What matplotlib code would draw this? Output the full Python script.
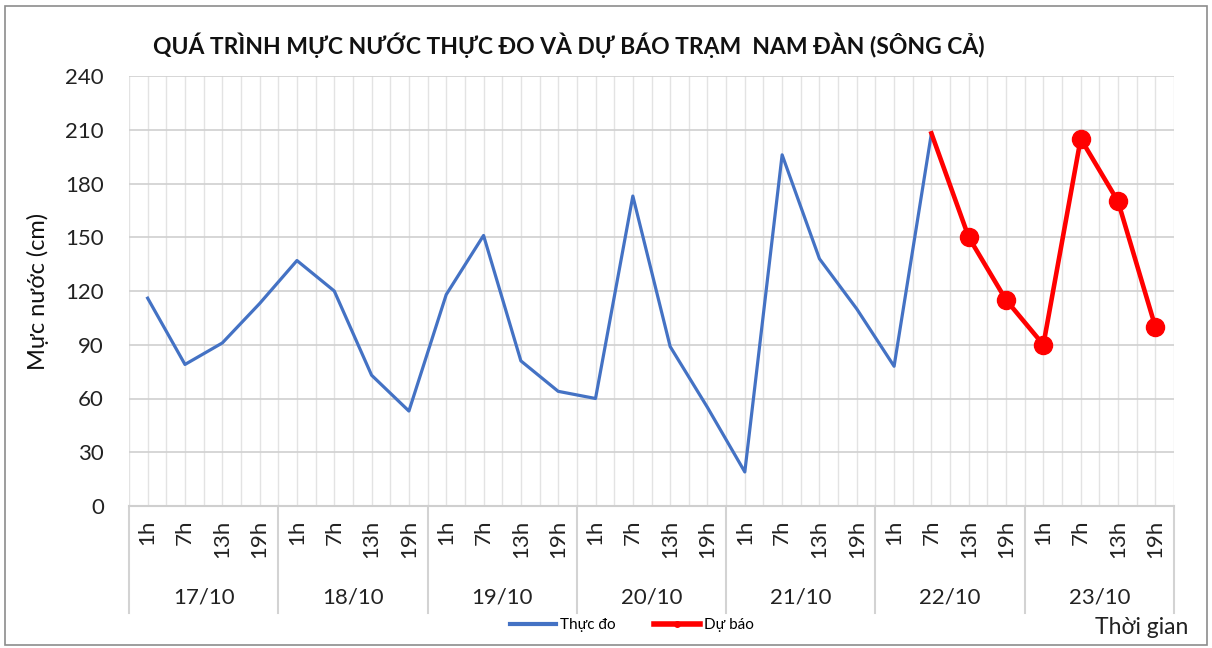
import matplotlib
matplotlib.use("Agg")
import matplotlib.pyplot as plt
from matplotlib.patches import Rectangle
from matplotlib.lines import Line2D
import numpy as np

plt.rcParams['font.family'] = ['Lato', 'Noto Sans', 'DejaVu Sans']

# data
days = ["17/10", "18/10", "19/10", "20/10", "21/10", "22/10", "23/10"]
hours = ["1h", "7h", "13h", "19h"]
observed = [116, 79, 91, 113, 137, 120, 73, 53, 118, 151, 81, 64,
            60, 173, 89, 55, 19, 196, 138, 110, 78, 208]
forecast_start = 21
forecast = [208, 150, 115, 90, 205, 170, 100]

labels = [h for d in days for h in hours]
n = len(labels)

fig = plt.figure(figsize=(12.12, 6.48), dpi=100)
ax = fig.add_axes([129/1212, 1-506/648, (1174-129)/1212, (506-76)/648])

x_obs = np.arange(len(observed))
x_fc = np.arange(forecast_start, forecast_start + len(forecast))
ax.plot(x_obs, observed, color="#4472C4", lw=2.3, zorder=3)
ax.plot(x_fc, forecast, color="#FF0000", lw=3.3, marker="o", ms=13,
        markevery=list(range(1, len(forecast))), zorder=4)

ax.set_xlim(-0.5, n - 0.5)
ax.set_ylim(0, 240)
ax.set_yticks(range(0, 241, 30))
ax.set_xticks(range(n))
ax.set_xticklabels(labels, rotation=90, fontsize=16, color="#222222")
ax.set_xticks(np.arange(-0.5, n, 1), minor=True)
ax.tick_params(axis="x", which="both", length=0, pad=10)
ax.tick_params(axis="y", length=0, pad=18, labelsize=16, labelcolor="#222222")

ax.grid(axis="y", color="#d0d0d0", lw=1.2)
ax.grid(axis="x", which="both", color="#e3e3e3", lw=1.0)
ax.set_axisbelow(True)
for s in ["top", "right", "left"]:
    ax.spines[s].set_visible(False)
ax.spines["bottom"].set_color("#cfcfcf")
ax.spines["bottom"].set_linewidth(1.5)

# group separators and day labels under the axis
tr = ax.get_xaxis_transform()
sep_bottom = -(613 - 506) / 430
for k in range(len(days) + 1):
    xb = -0.5 + 4 * k
    ax.plot([xb, xb], [0, sep_bottom], transform=tr, color="#d3d3d3",
            lw=1.5, clip_on=False)
for k, d in enumerate(days):
    ax.text(1.5 + 4 * k, -(598 - 506) / 430, d, transform=tr, ha="center",
            va="center", fontsize=16, color="#222222")

ax.set_ylabel("Mực nước (cm)", fontsize=17, color="#111111", labelpad=12)
fig.text(569/1212, 1 - 45/648, "QUÁ TRÌNH MỰC NƯỚC THỰC ĐO VÀ DỰ BÁO TRẠM  NAM ĐÀN (SÔNG CẢ)",
         ha="center", va="center", fontsize=16.5, fontweight="bold", color="#111111")
fig.text(1142/1212, 1 - 628/648, "Thời gian", ha="center", va="center",
         fontsize=16.5, color="#222222")

handles = [Line2D([], [], color="#4472C4", lw=3),
           Line2D([], [], color="#FF0000", lw=4, marker="o", ms=4)]
fig.legend(handles, ["Thực đo", "Dự báo"], loc="center",
           bbox_to_anchor=(632/1212, 1 - 625/648), ncol=2,
           frameon=False, fontsize=11, handlelength=3, columnspacing=2.5,
           handletextpad=0.3)

fig.add_artist(Rectangle((5/1212, 3/648), 1202/1212, 639/648,
                         transform=fig.transFigure, fill=False,
                         edgecolor="#8c8c8c", lw=1.2))

fig.savefig("out.png", dpi=100)
